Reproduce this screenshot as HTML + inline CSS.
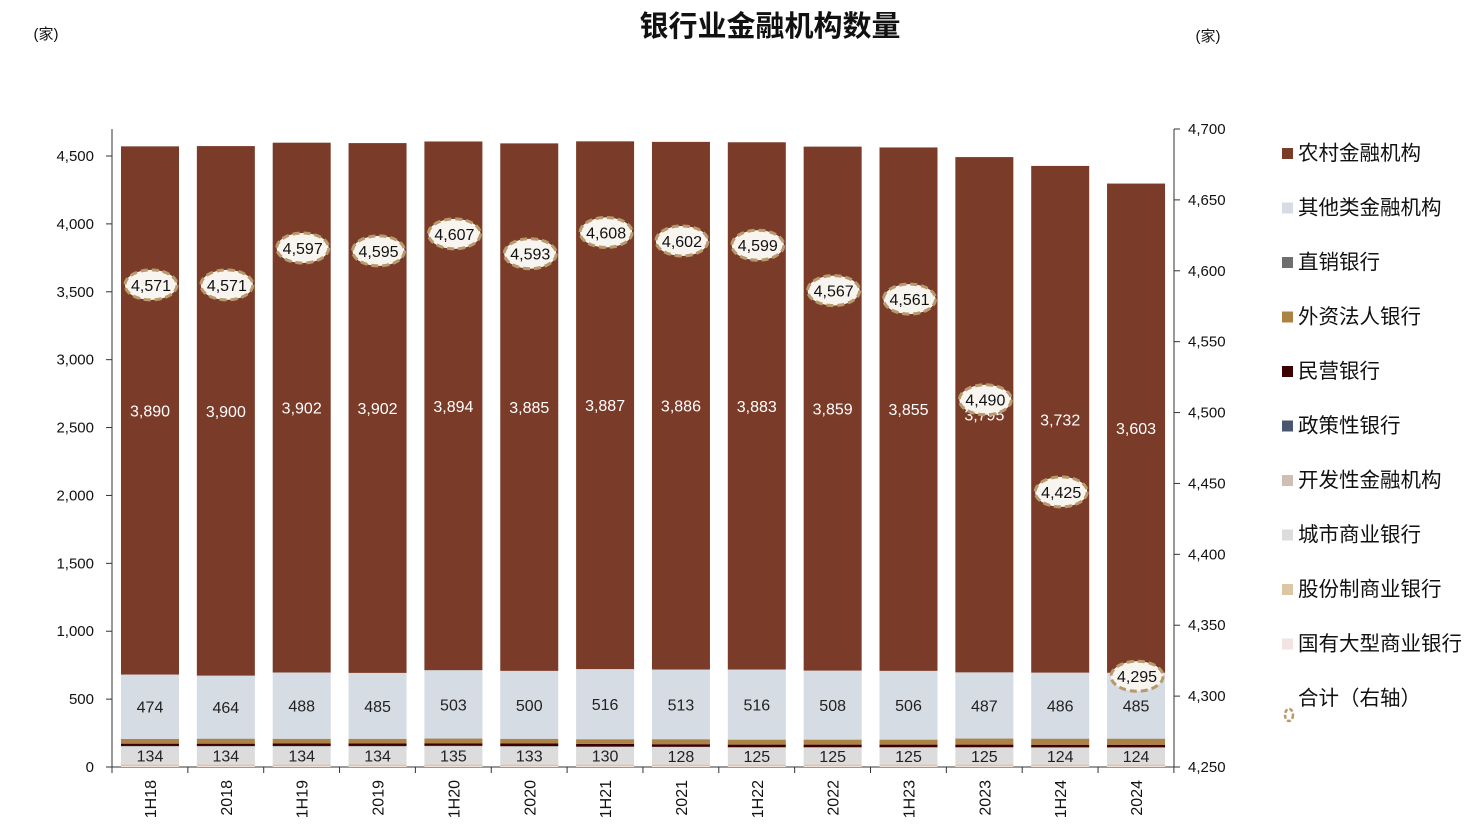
<!DOCTYPE html>
<html><head><meta charset="utf-8"><style>
body{margin:0;background:#fff;}
svg text{font-family:"Liberation Sans","Noto Sans CJK SC",sans-serif;}
</style></head><body>
<svg id="c" width="1482" height="833" xmlns="http://www.w3.org/2000/svg">
<text x="770" y="36" text-anchor="middle" font-size="29" font-weight="bold" fill="#111">银行业金融机构数量</text>
<text x="46" y="39" text-anchor="middle" font-size="15" fill="#111">(家)</text>
<text x="1208" y="41" text-anchor="middle" font-size="15" fill="#111">(家)</text>
<g id="plot"></g>
<g id="legend"></g>
</svg>
<script>
const categories=["1H18","2018","1H19","2019","1H20","2020","1H21","2021","1H22","2022","1H23","2023","1H24","2024"];
const rural=[3890,3900,3902,3902,3894,3885,3887,3886,3883,3859,3855,3795,3732,3603];
const other=[474,464,488,485,503,500,516,513,516,508,506,487,486,485];
const city=[134,134,134,134,135,133,130,128,125,125,125,125,124,124];
const bigState=[6,6,6,6,6,6,6,6,6,6,6,6,6,6];
const joint=[12,12,12,12,12,12,12,12,12,12,12,12,12,12];
const devFin=[1,1,1,1,1,1,1,1,1,1,1,1,1,1];
const policy=[2,2,2,2,2,2,2,2,2,2,2,2,2,2];
const privateB=[17,17,18,18,19,19,19,19,19,19,19,19,19,19];
const direct=[1,1,1,1,1,1,1,1,1,1,1,1,1,1];
const foreign=[34,36,34,34,34,34,34,36,36,36,36,44,44,44];
const total=[4571,4571,4597,4595,4607,4593,4608,4602,4599,4567,4561,4490,4425,4295];
const leftTicks=[0,500,1000,1500,2000,2500,3000,3500,4000,4500];
const rightTicks=[4250,4300,4350,4400,4450,4500,4550,4600,4650,4700];

const NS="http://www.w3.org/2000/svg";
const plot=document.getElementById('plot');
const legend=document.getElementById('legend');
function el(t,a,p){const e=document.createElementNS(NS,t);for(const k in a)e.setAttribute(k,a[k]);(p||plot).appendChild(e);return e;}
const y0=767,yL=v=>y0-v*(611/4500);
const yR=v=>y0-(v-4250)*(638/450);
const xC=i=>150+i*75.85;
const bw=58;
const fmt=v=>v.toLocaleString('en-US');

let ax=el('line',{x1:112,y1:129,x2:112,y2:767,stroke:'#333'});


let ax2=el('line',{x1:1174,y1:129,x2:1174,y2:767,stroke:'#333'});


let xa=el('line',{x1:112,y1:767,x2:1174,y2:767,stroke:'#333'});


leftTicks.forEach(v=>{
 el('line',{x1:106,y1:yL(v),x2:112,y2:yL(v),stroke:'#333'});
 const t=el('text',{x:94,y:yL(v)+5,'text-anchor':'end','font-size':15,fill:'#111'});t.textContent=fmt(v);
 
 
});
rightTicks.forEach(v=>{
 el('line',{x1:1174,y1:yR(v),x2:1180,y2:yR(v),stroke:'#333'});
 const t=el('text',{x:1188,y:yR(v)+5,'font-size':15,fill:'#111'});t.textContent=fmt(v);
 
 
});
for(let i=0;i<=categories.length;i++){const x=112+i*75.85;el('line',{x1:x,y1:767,x2:x,y2:773,stroke:'#333'});}

const series=[
 [bigState,'#f3e4e4','big-state'],[joint,'#dcc6a4','joint-stock'],[city,'#dcdcdc','city-commercial'],
 [devFin,'#cdbfb2','development-finance'],[policy,'#4a5670','policy-bank'],[privateB,'#3d0000','private-bank'],
 [foreign,'#ad8345','foreign-bank'],[direct,'#6e6e6e','direct-bank'],[other,'#d6dce4','other-institutions'],[rural,'#7b3b29','rural-finance']
];
categories.forEach((c,i)=>{
 let acc=0;
 series.forEach(([arr,col,nm])=>{
  const v=arr[i];
  const r=el('rect',{x:xC(i)-bw/2,y:yL(acc+v),width:bw,height:yL(acc)-yL(acc+v),fill:col});
  
  
  if(nm==='rural-finance'||nm==='other-institutions'||nm==='city-commercial'){
   const t=el('text',{x:xC(i),y:yL(acc+v/2)+6,'text-anchor':'middle','font-size':16,fill:nm==='rural-finance'?'#fff':'#222'});
   t.textContent=fmt(v);
   
   
  }
  acc+=v;
 });
 const xl=el('text',{transform:`translate(${xC(i)+6},${780}) rotate(-90)`,'text-anchor':'end','font-size':16,fill:'#111'});
 xl.textContent=c;
 
 
});
categories.forEach((c,i)=>{
 const cy=yR(total[i])-27;
 const e=el('ellipse',{cx:xC(i)+1,cy:cy,rx:26,ry:15,fill:'#f8f5f0',stroke:'#b89a6a','stroke-width':3,'stroke-dasharray':'7 4'});
 
 
 const t=el('text',{x:xC(i)+1,y:cy+6,'text-anchor':'middle','font-size':16,fill:'#111'});
 t.textContent=fmt(total[i]);
 
 
});
const legs=[['农村金融机构','#7b3b29'],['其他类金融机构','#d6dce4'],['直销银行','#6e6e6e'],['外资法人银行','#ad8345'],['民营银行','#3d0000'],['政策性银行','#4a5670'],['开发性金融机构','#cdbfb2'],['城市商业银行','#dcdcdc'],['股份制商业银行','#dcc6a4'],['国有大型商业银行','#f3e4e4']];
legs.forEach(([n,c],k)=>{
 const y=153+k*54.5;
 const g=el('g',{},legend);
 
 
 el('rect',{x:1282,y:y-5,width:11,height:11,fill:c},g);
 const t=el('text',{x:1298,y:y+7,'font-size':20.5,fill:'#111'},g);t.textContent=n;
});
const g=el('g',{},legend);


el('ellipse',{cx:1289,cy:715,rx:4,ry:6,fill:'#fff',stroke:'#b89a6a','stroke-width':2.5,'stroke-dasharray':'4 2'},g);
const tt=el('text',{x:1298,y:705,'font-size':20.5,fill:'#111'},g);tt.textContent='合计（右轴）';
</script>
</body></html>
